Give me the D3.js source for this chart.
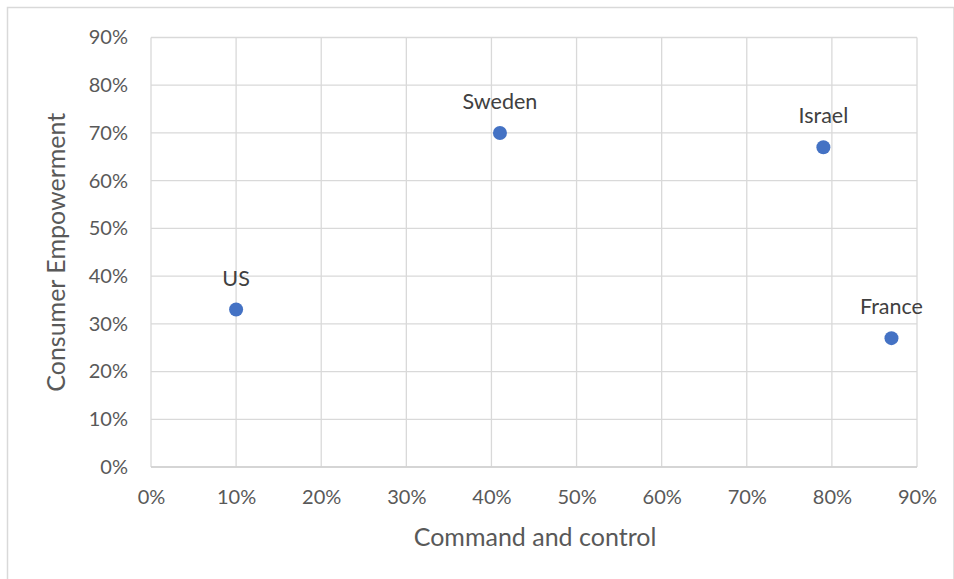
<!DOCTYPE html>
<html>
<head>
<meta charset="utf-8">
<script src="https://cdn.jsdelivr.net/npm/d3@7"></script>
<style>
  html, body { margin: 0; padding: 0; background: #fff; }
  svg { display: block; font-family: Lato, "Open Sans", sans-serif; }
</style>
</head>
<body>
<svg id="chart" width="954" height="579"></svg>
<script>
// Countries plotted on two policy dimensions (fractions of 1)
const countries = ["US", "Sweden", "Israel", "France"];
const commandControl = [0.10, 0.41, 0.79, 0.87];
const consumerEmpowerment = [0.33, 0.70, 0.67, 0.27];
const xTicks = [0, 0.1, 0.2, 0.3, 0.4, 0.5, 0.6, 0.7, 0.8, 0.9];
const yTicks = [0, 0.1, 0.2, 0.3, 0.4, 0.5, 0.6, 0.7, 0.8, 0.9];

const svg = d3.select("#chart");
const W = 954, H = 579;
const plot = { left: 151, right: 917, top: 37.5, bottom: 467 };

// Outer chart frame
svg.append("rect")
  .attr("x", 7.5).attr("y", 7.5)
  .attr("width", W - 7.5).attr("height", H)
  .attr("fill", "#fff").attr("stroke", "#d9d9d9").attr("stroke-width", 1.5);

const x = d3.scaleLinear().domain([0, 0.9]).range([plot.left, plot.right]);
const y = d3.scaleLinear().domain([0, 0.9]).range([plot.bottom, plot.top]);
const pct = d3.format(".0%");

// Gridlines
const grid = svg.append("g").attr("stroke", "#d9d9d9").attr("stroke-width", 1.3);
grid.selectAll("line.v").data(xTicks).join("line")
  .attr("x1", d => x(d)).attr("x2", d => x(d))
  .attr("y1", plot.top).attr("y2", plot.bottom);
grid.selectAll("line.h").data(yTicks).join("line")
  .attr("x1", plot.left).attr("x2", plot.right)
  .attr("y1", d => y(d)).attr("y2", d => y(d));

// Axes (labels only)
const xAxis = svg.append("g")
  .attr("transform", `translate(0,${plot.bottom})`)
  .call(d3.axisBottom(x).tickValues(xTicks).tickFormat(pct).tickSize(0).tickPadding(23));
const yAxis = svg.append("g")
  .attr("transform", `translate(${plot.left},0)`)
  .call(d3.axisLeft(y).tickValues(yTicks).tickFormat(pct).tickSize(0).tickPadding(23));
[xAxis, yAxis].forEach(a => {
  a.select(".domain").remove();
  a.selectAll("text").attr("fill", "#595959").style("font-size", "20px")
    .style("font-family", "Lato, sans-serif");
});
// Bottom axis line slightly darker
svg.append("line")
  .attr("x1", plot.left).attr("x2", plot.right)
  .attr("y1", plot.bottom).attr("y2", plot.bottom)
  .attr("stroke", "#d0d0d0").attr("stroke-width", 1.5);

// Axis titles
svg.append("text")
  .attr("x", x(0.45) + 1).attr("y", 546)
  .attr("text-anchor", "middle")
  .attr("fill", "#595959").style("font-size", "25px")
  .text("Command and control");
svg.append("text")
  .attr("transform", `translate(65,${(plot.top + plot.bottom) / 2}) rotate(-90)`)
  .attr("text-anchor", "middle")
  .attr("fill", "#595959").style("font-size", "25px")
  .text("Consumer Empowerment");

// Points and labels
const data = countries.map((c, i) => ({ name: c, cx: commandControl[i], cy: consumerEmpowerment[i] }));
svg.append("g").selectAll("circle").data(data).join("circle")
  .attr("cx", d => x(d.cx)).attr("cy", d => y(d.cy))
  .attr("r", 7).attr("fill", "#4472c4");
svg.append("g").selectAll("text").data(data).join("text")
  .attr("x", d => x(d.cx)).attr("y", d => y(d.cy) - 24)
  .attr("text-anchor", "middle")
  .attr("fill", "#404040").style("font-size", "21.5px")
  .text(d => d.name);
</script>
</body>
</html>
